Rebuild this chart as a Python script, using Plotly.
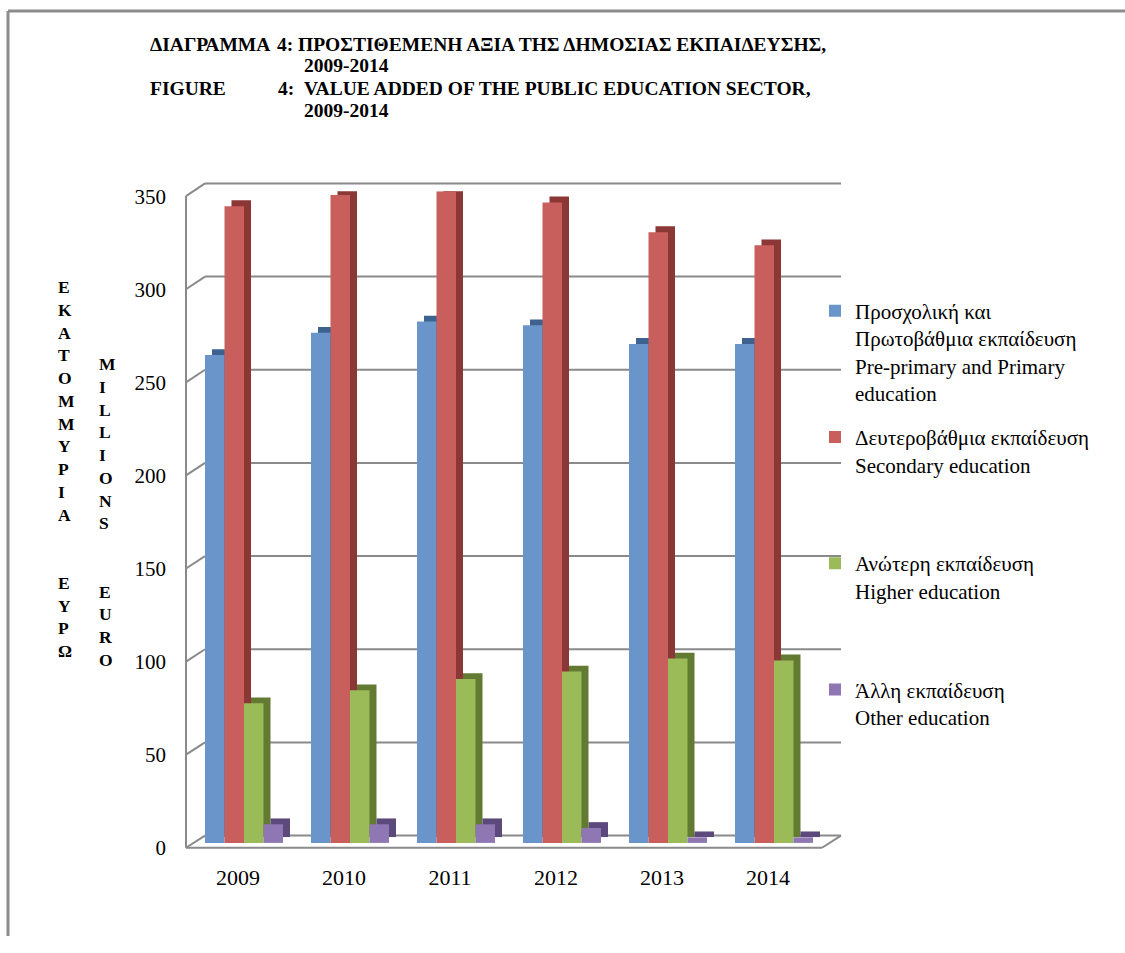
import plotly.graph_objects as go

# ---------------- data ----------------
years = ["2009", "2010", "2011", "2012", "2013", "2014"]
preprimary = [262, 274, 280, 278, 268, 268]
secondary = [342, 348, 350, 344, 328, 321]
higher = [75, 82, 88, 92, 99, 98]
other = [10, 10, 10, 8, 3, 3]
y_ticks = [0, 50, 100, 150, 200, 250, 300, 350]

series_names = [
    "Προσχολική και<br>Πρωτοβάθμια εκπαίδευση<br>Pre-primary and Primary<br>education",
    "Δευτεροβάθμια εκπαίδευση<br>Secondary education<br>\u00a0<br>\u00a0",
    "Ανώτερη εκπαίδευση<br>Higher education<br>\u00a0<br>\u00a0",
    "Άλλη εκπαίδευση<br>Other education",
]
series_values = [preprimary, secondary, higher, other]
face_colors = ["#6A95CA", "#C95F5C", "#9BBB59", "#8E77B3"]
side_colors = ["#3E6290", "#8A3735", "#637A33", "#5D4A7C"]

# ---------------- geometry helpers (page pixels) ----------------
W, H = 1125, 953


def X(px):
    return px / W


def Y(py):
    return 1 - py / H


YMAX = 350
front = dict(left=186, right=822, bottom=862.5, top=194)   # front edge of the floor/wall
mid = dict(left=191, right=827, bottom=857.5, top=189)     # plane of the bars (plot axes)
back = dict(left=205, right=841, bottom=850, top=181)      # back wall


def y_plane(p, v):
    return Y(p["bottom"]) + v / YMAX * (Y(p["top"]) - Y(p["bottom"]))


cat_px = (mid["right"] - mid["left"]) / len(years)
bw = 19.5 / cat_px          # bar width in category units
dx = 7 / cat_px             # depth offset (x) of the 3-D side
dy = 6 / ((mid["bottom"] - mid["top"]) / YMAX)  # depth offset (y) in data units

fig = go.Figure()

for i, (name, vals) in enumerate(zip(series_names, series_values)):
    off = (i - 2) * bw
    fig.add_trace(go.Bar(
        x=years, y=vals, base=dy, width=bw, offset=off + dx,
        marker=dict(color=side_colors[i], line=dict(width=0)),
        showlegend=False, hoverinfo="skip",
    ))
    fig.add_trace(go.Bar(
        x=years, y=vals, width=bw, offset=off, name=name,
        legendgroup=f"g{i}",
        marker=dict(color=face_colors[i], line=dict(width=0)),
    ))

grid_col = "#8A8A8A"
serif = "Liberation Serif"

fig.update_layout(
    width=W, height=H,
    margin=dict(l=0, r=0, t=0, b=0),
    paper_bgcolor="white", plot_bgcolor="rgba(0,0,0,0)",
    barmode="overlay",
    font=dict(family=serif, color="black", size=21),
    xaxis=dict(domain=[X(mid["left"]), X(mid["right"])],
               type="category", range=[-0.5, 5.5],
               showgrid=False, zeroline=False, showline=False, ticks="",
               tickfont=dict(size=22), ticklabelstandoff=19, ticklabelshift=-6),
    yaxis=dict(domain=[Y(mid["bottom"]), Y(mid["top"])],
               range=[0, YMAX], tickvals=y_ticks, showgrid=False,
               zeroline=False, showline=False, ticks="",
               tickfont=dict(size=21), ticklabelstandoff=24, ticklabelshift=5),
    legend=dict(x=X(815), y=Y(291), xanchor="left", yanchor="top",
                font=dict(size=21, family=serif), valign="top",
                tracegroupgap=14, bgcolor="rgba(0,0,0,0)",
                itemclick=False, itemdoubleclick=False),
    showlegend=True,
)


def seg(x0, y0, x1, y1, color=grid_col, width=2, layer="below"):
    return dict(type="line", xref="paper", yref="paper", x0=x0, y0=y0, x1=x1, y1=y1,
                line=dict(color=color, width=width), layer=layer)


shapes = []
for v in y_ticks:
    shapes.append(seg(X(back["left"]), y_plane(back, v), X(back["right"]), y_plane(back, v)))
    shapes.append(seg(X(front["left"]), y_plane(front, v), X(back["left"]), y_plane(back, v)))
shapes.append(seg(X(front["left"]), y_plane(front, 0), X(front["left"]), y_plane(front, YMAX)))
shapes.append(seg(X(front["left"]), y_plane(front, 0), X(front["right"]), y_plane(front, 0)))
shapes.append(seg(X(front["right"]), y_plane(front, 0), X(back["right"]), y_plane(back, 0)))
# page frame (left and top)
shapes.append(seg(X(8), 0, X(8), Y(4), color="#8C8C8C", width=3, layer="above"))
shapes.append(seg(X(8), Y(4), 1, Y(4), color="#8C8C8C", width=3, layer="above"))
fig.update_layout(shapes=shapes)

title_font = dict(family=serif, size=19.5, color="black")
ann = []


def text(px, py, s, font=title_font):
    ann.append(dict(x=X(px), y=Y(py), xref="paper", yref="paper", text=s,
                    showarrow=False, xanchor="left", yanchor="middle",
                    align="left", font=font))


text(148, 38, "<b>ΔΙΑΓΡΑΜΜΑ</b>")
text(275, 38, "<b>4:</b>")
text(296, 38, "<b>ΠΡΟΣΤΙΘΕΜΕΝΗ ΑΞΙΑ ΤΗΣ ΔΗΜΟΣΙΑΣ ΕΚΠΑΙΔΕΥΣΗΣ,</b>")
text(302, 60.5, "<b>2009-2014</b>")
text(148, 83.5, "<b>FIGURE</b>")
text(276, 83.5, "<b>4:</b>")
text(302, 83.5, "<b>VALUE ADDED OF THE PUBLIC EDUCATION SECTOR,</b>")
text(302, 106, "<b>2009-2014</b>")

col_font = dict(family=serif, size=17.5, color="black")
greek_col = "<br>".join(list("ΕΚΑΤΟΜΜΥΡΙΑ") + ["", ""] + list("ΕΥΡΩ"))
eng_col = "<br>".join(list("MILLIONS") + ["", ""] + list("EURO"))
ann.append(dict(x=X(56), y=Y(474), xref="paper", yref="paper", text="<b>" + greek_col + "</b>",
                showarrow=False, xanchor="left", yanchor="middle", align="left", font=col_font))
ann.append(dict(x=X(97), y=Y(518), xref="paper", yref="paper", text="<b>" + eng_col + "</b>",
                showarrow=False, xanchor="left", yanchor="middle", align="left", font=col_font))
fig.update_layout(annotations=ann)

fit_page = (
    "document.documentElement.style.overflow='hidden';"
    "document.body.style.margin='0';"
    "document.body.style.overflow='hidden';"
)
fig.write_html("out.html", post_script=fit_page, config={"displayModeBar": False})
